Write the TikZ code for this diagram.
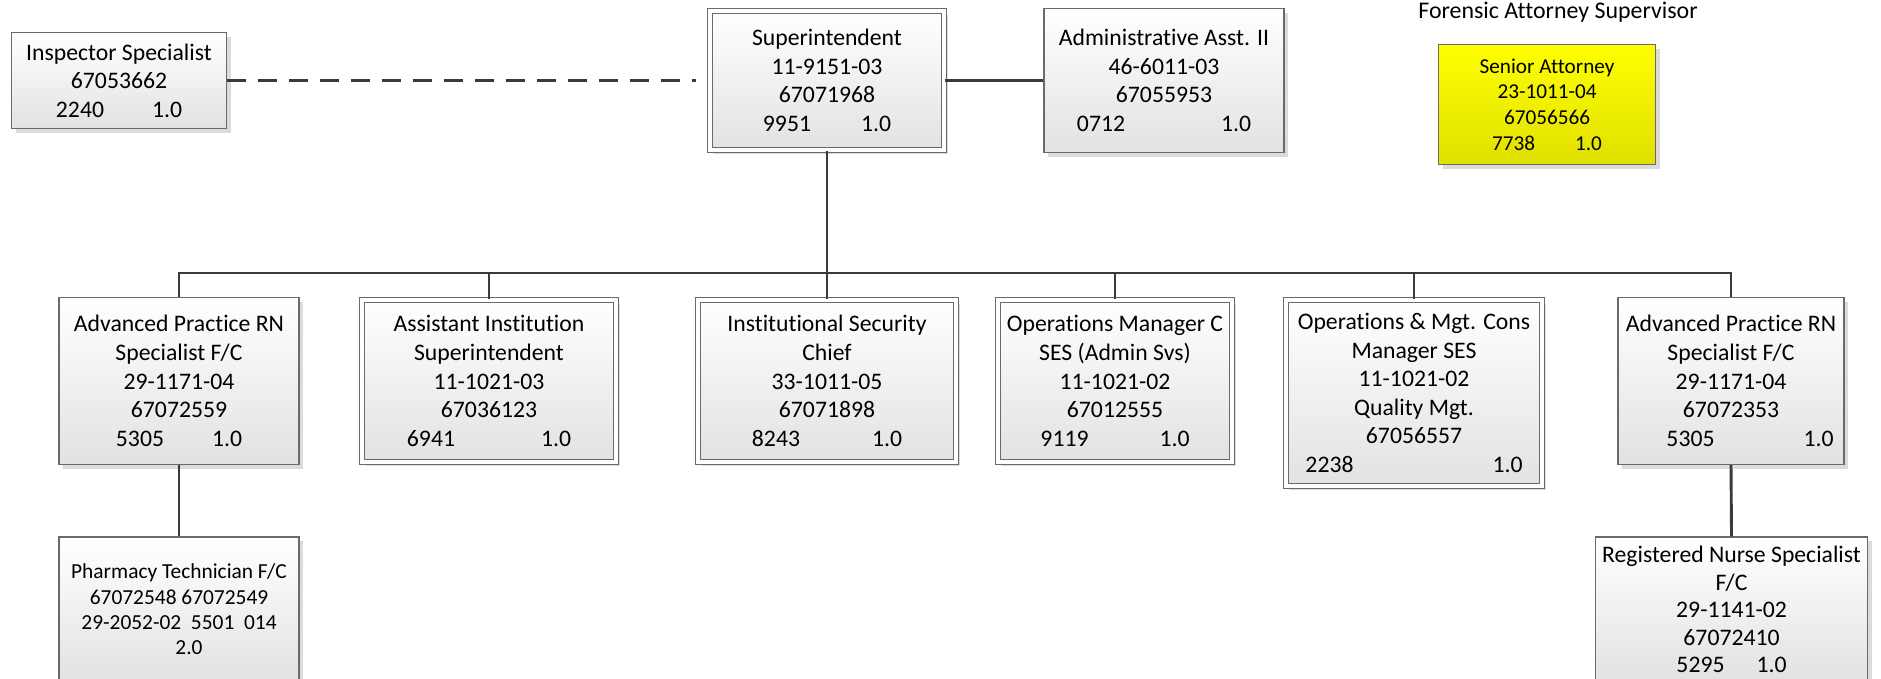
\documentclass[tikz,border=0pt]{standalone}
\usepackage{fontspec}
\setmainfont{Carlito}[Ligatures={NoCommon}]
\usepackage{tikz}
\usetikzlibrary{shadows,calc}
\usepackage{xcolor}
\definecolor{lnc}{HTML}{3A3A3A}
\definecolor{bdc}{HTML}{6A6A6A}
\definecolor{btm}{HTML}{E2E2E2}
\definecolor{ytop}{HTML}{FFFF00}
\definecolor{ybtm}{HTML}{E0E000}

\begin{document}
\begin{tikzpicture}[x=1pt, y=-1pt,
    box/.style={rectangle, draw=bdc, line width=1.4pt, top color=white, bottom color=btm,
        inner sep=0pt, align=center, font=\fontsize{23.7pt}{28.6pt}\selectfont,
        drop shadow={shadow xshift=4pt, shadow yshift=-4pt, fill=black!14, opacity=1}},
    dbox/.style={box, double=white, double distance=3.5pt, line width=1.3pt},
    ybox/.style={box, top color=ytop, bottom color=ybtm, font=\fontsize{21.2pt}{25.6pt}\selectfont},
    conn/.style={draw=lnc, line width=2.9pt}]
    \useasboundingbox (0,0) rectangle (1881,678);

    % 上层
    \node[box, minimum width=215pt, minimum height=96pt] (Insp) at (119,80.5)
        {Inspector Specialist\\67053662\\2240\hspace{48pt}1.0};
    \node[dbox, minimum width=234pt, minimum height=139pt] (Sup) at (827,80.5)
        {Superintendent\\11-9151-03\\67071968\\9951\hspace{50pt}1.0};
    \node[box, minimum width=240pt, minimum height=144pt] (Adm) at (1164,80.5)
        {Administrative Asst. II\\46-6011-03\\67055953\\0712\hspace{96pt}1.0};
    \node[font=\fontsize{23.9pt}{28pt}\selectfont, inner sep=0pt, anchor=base] (Fas) at (1558,18)
        {Forensic Attorney Supervisor};
    \node[ybox, minimum width=217pt, minimum height=120pt] (Atty) at (1547,104.5)
        {Senior Attorney\\23-1011-04\\67056566\\7738\hspace{40pt}1.0};

    % 中层
    \node[box, minimum width=240pt, minimum height=167pt] (AP1) at (179,381)
        {Advanced Practice RN\\Specialist F/C\\29-1171-04\\67072559\\5305\hspace{48pt}1.0};
    \node[dbox, minimum width=254pt, minimum height=162pt] (AIS) at (489,381)
        {Assistant Institution\\Superintendent\\11-1021-03\\67036123\\6941\hspace{86pt}1.0};
    \node[dbox, minimum width=258pt, minimum height=162pt] (ISC) at (827,381)
        {Institutional Security\\Chief\\33-1011-05\\67071898\\8243\hspace{72pt}1.0};
    \node[dbox, minimum width=234pt, minimum height=162pt] (OMC) at (1115,381)
        {Operations Manager C\\SES (Admin Svs)\\11-1021-02\\67012555\\9119\hspace{71pt}1.0};
    \node[dbox, minimum width=256pt, minimum height=186pt] (OMG) at (1414,393)
        {Operations \& Mgt. Cons\\Manager SES\\11-1021-02\\Quality Mgt.\\67056557\\2238\hspace{139pt}1.0};
    \node[box, minimum width=226pt, minimum height=167pt] (AP2) at (1731,381)
        {Advanced Practice RN\\Specialist F/C\\29-1171-04\\67072353\\\hspace*{38pt}5305\hspace{89pt}1.0};

    % 下层
    \node[box, minimum width=240pt, minimum height=145pt, font=\fontsize{21.4pt}{25.4pt}\selectfont] (Pharm) at (179,609.5)
        {Pharmacy Technician F/C\\67072548 67072549\\29-2052-02\ \ 5501\ \ 014\\\hspace*{20pt}2.0};
    \node[box, minimum width=272pt, minimum height=145pt, font=\fontsize{23.7pt}{27.5pt}\selectfont] (RNS) at (1731.5,609.5)
        {Registered Nurse Specialist\\F/C\\29-1141-02\\67072410\\5295\hspace{32pt}1.0};

    % 连线
    \draw[conn, line width=2.4pt, dash pattern=on 19pt off 12pt, shorten >=13pt] (Insp.east) -- (Sup.west);
    \draw[conn] (Sup.east) -- (Adm.west);
    \coordinate (bus) at (827,273);
    \draw[conn] (Sup.south) -- (bus);
    \foreach \n in {AP1,AIS,ISC,OMC,OMG,AP2} {
        \draw[conn] (\n.north) |- (bus);
    }
    \draw[conn] (AP1.south) -- (Pharm.north);
    \draw[conn] (AP2.south) -- (RNS.north);
\end{tikzpicture}
\end{document}
